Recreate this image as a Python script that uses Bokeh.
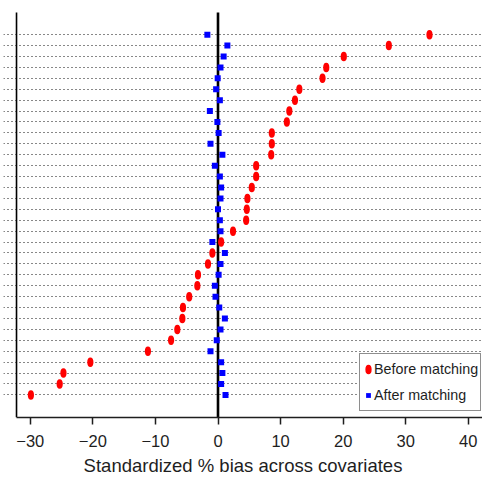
from bokeh.plotting import figure
from bokeh.models import (ColumnDataSource, FixedTicker, Grid, Range1d,
                          Legend, LegendItem)
from bokeh.embed import file_html
from bokeh.resources import INLINE
import numpy as np

# Standardized % bias, covariates ordered from top to bottom
before = [33.8, 27.3, 20.1, 17.3, 16.7, 13.0, 12.3, 11.4, 11.0, 8.6, 8.6, 8.5,
          6.1, 6.1, 5.4, 4.7, 4.6, 4.5, 2.4, 0.5, -0.9, -1.6, -3.2, -3.3,
          -4.6, -5.6, -5.7, -6.5, -7.5, -11.2, -20.4, -24.7, -25.3, -29.9]
after = [-1.7, 1.5, 0.9, 0.4, -0.05, -0.3, 0.3, -1.3, -0.1, 0.1, -1.2, 0.7,
         -0.5, 0.3, 0.5, 0.4, 0.0, 0.3, 0.4, -0.9, 1.1, 0.4, 0.1, -0.5,
         -0.4, 0.2, 1.1, 0.4, -0.2, -1.2, 0.5, 0.7, 0.5, 1.2]
x_ticks = [-30, -20, -10, 0, 10, 20, 30, 40]
x_tick_labels = ["\u221230", "\u221220", "\u221210", "0", "10", "20", "30", "40"]
legend_labels = ["Before matching", "After matching"]
x_label = "Standardized % bias across covariates"

n = len(before)
rows = list(np.arange(n, 0, -1))
src = ColumnDataSource(data=dict(before=before, after=after, row=rows))

FONT = "Liberation Sans"
INK = "#1e1e1e"

p = figure(width=482, height=478, output_backend="svg", toolbar_location=None,
           x_range=Range1d(-34.28, 42.27), y_range=Range1d(-1.07, 37.13),
           y_axis_location=None,
           min_border_left=3, min_border_right=0, min_border_top=0,
           min_border_bottom=0)
p.outline_line_color = None
p.xgrid.visible = False
p.ygrid.visible = False

# dotted row lines
g = Grid(dimension=1, ticker=FixedTicker(ticks=rows),
         grid_line_color="#111111", grid_line_dash="1 3", grid_line_width=1.2)
p.add_layout(g, "center")

# left box line and zero reference line
ytop = 36.03
p.segment(x0=[-32.2], y0=[-1.07], x1=[-32.2], y1=[ytop],
          line_color="black", line_width=1.6)
p.segment(x0=[0], y0=[-1.07], x1=[0], y1=[ytop],
          line_color="black", line_width=2.6)

r_before = p.ellipse(x="before", y="row", width=6.2, height=9.5,
                     width_units="screen", height_units="screen",
                     fill_color="#ff0000", line_color=None, source=src)
r_after = p.scatter(x="after", y="row", marker="square", size=6,
                    fill_color="#0000ff", line_color=None, source=src)

# x axis
ax = p.xaxis[0]
ax.ticker = FixedTicker(ticks=x_ticks)
ax.major_label_overrides = {t: l for t, l in zip(x_ticks, x_tick_labels)}
ax.bounds = (-32.2, 42.27)
ax.axis_line_color = INK
ax.axis_line_width = 1.5
ax.major_tick_line_color = INK
ax.major_tick_line_width = 1.5
ax.major_tick_out = 7
ax.major_tick_in = 0
ax.minor_tick_line_color = None
ax.major_label_text_font = FONT
ax.major_label_text_font_size = "16.5px"
ax.major_label_text_color = INK
ax.major_label_standoff = 10
ax.axis_label = x_label
ax.axis_label_text_font = FONT
ax.axis_label_text_font_size = "18.5px"
ax.axis_label_text_font_style = "normal"
ax.axis_label_text_color = INK
ax.axis_label_standoff = 5

legend = Legend(items=[LegendItem(label=legend_labels[0], renderers=[r_before]),
                       LegendItem(label=legend_labels[1], renderers=[r_after])],
                location=(356, 6), orientation="vertical",
                glyph_width=12, glyph_height=12, label_standoff=0,
                label_height=26, spacing=0, padding=2, margin=0,
                label_text_font=FONT, label_text_font_size="14.3px",
                label_text_color=INK,
                border_line_color=INK, border_line_width=1.5,
                background_fill_color="white", background_fill_alpha=1.0)
p.add_layout(legend, "center")

open("out.html", "w").write(file_html(p, INLINE))
